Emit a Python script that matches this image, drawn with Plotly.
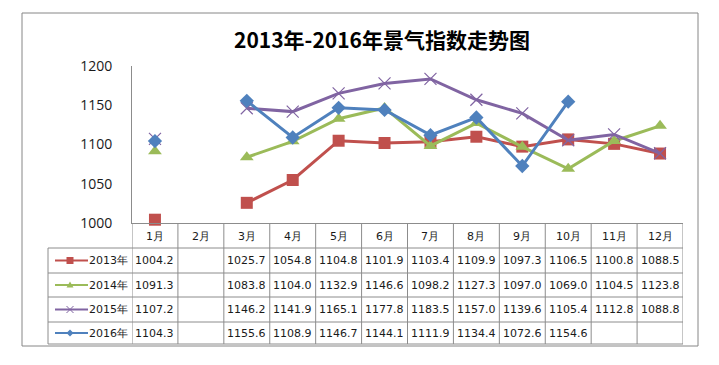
import plotly.graph_objects as go

months = ["1月", "2月", "3月", "4月", "5月", "6月", "7月", "8月", "9月", "10月", "11月", "12月"]
series_names = ["2013年", "2014年", "2015年", "2016年"]
v2013 = [1004.2, None, 1025.7, 1054.8, 1104.8, 1101.9, 1103.4, 1109.9, 1097.3, 1106.5, 1100.8, 1088.5]
v2014 = [1091.3, None, 1083.8, 1104.0, 1132.9, 1146.6, 1098.2, 1127.3, 1097.0, 1069.0, 1104.5, 1123.8]
v2015 = [1107.2, None, 1146.2, 1141.9, 1165.1, 1177.8, 1183.5, 1157.0, 1139.6, 1105.4, 1112.8, 1088.8]
v2016 = [1104.3, None, 1155.6, 1108.9, 1146.7, 1144.1, 1111.9, 1134.4, 1072.6, 1154.6, None, None]
y_ticks = [1000, 1050, 1100, 1150, 1200]
title_text = "2013年-2016年景气指数走势图"

OFF = 8  # page body margin
WIN_W, WIN_H = 719, 365
W, H = WIN_W - OFF * 2, WIN_H - OFF * 2
L, R, T, B = 132, 683, 66, 223  # plot area in screen pixels
pw, ph = R - L, B - T


def px(x):
    return (x - L) / pw


def py(y):
    return (B - y) / ph


colors = ["#C0504D", "#9BBB59", "#8064A2", "#4F81BD"]
symbols = ["square", "triangle-up", "x-thin", "diamond"]
msizes = [12, 12, 12, 11]
all_vals = [v2013, v2014, v2015, v2016]

fig = go.Figure()
for name, vals, c, s, ms in zip(series_names, all_vals, colors, symbols, msizes):
    marker = dict(symbol=s, size=ms, color=c)
    if s == "x-thin":
        marker["line"] = dict(color=c, width=1.2)
    fig.add_trace(go.Scatter(
        x=months, y=vals, name=name, mode="lines+markers",
        line=dict(color=c, width=3), marker=marker, connectgaps=False,
        showlegend=False, cliponaxis=False,
    ))

shapes = []
grid = "#8C8C8C"
txt = "#1a1a1a"
# outer border
shapes.append(dict(type="rect", xref="paper", yref="paper", x0=px(22), x1=px(698), y0=py(346), y1=py(13),
                   line=dict(color="#868686", width=1), fillcolor="rgba(0,0,0,0)", layer="below"))
row_lines = [248, 273, 297, 322, 344]
table_bottom = 344
for i in range(len(months) + 1):
    shapes.append(dict(type="line", xref="x", yref="paper", x0=i - 0.5, x1=i - 0.5, y0=0, y1=py(table_bottom),
                       line=dict(color=grid, width=1)))
for yy in row_lines:
    shapes.append(dict(type="line", xref="paper", yref="paper", x0=px(48), x1=1, y0=py(yy), y1=py(yy),
                       line=dict(color=grid, width=1)))
shapes.append(dict(type="line", xref="paper", yref="paper", x0=px(48), x1=px(48), y0=py(248), y1=py(table_bottom),
                   line=dict(color=grid, width=1)))

row_centers = [260.5, 285, 309.5, 333]
annotations = []
for m_i, m in enumerate(months):
    annotations.append(dict(xref="x", yref="paper", x=m_i, y=py(236.5), text=m, showarrow=False,
                            xanchor="center", yanchor="middle",
                            font=dict(family="DejaVu Sans", size=11, color=txt)))
for r_i, (name, vals, c) in enumerate(zip(series_names, all_vals, colors)):
    yc = row_centers[r_i]
    for m_i, v in enumerate(vals):
        if v is None:
            continue
        annotations.append(dict(xref="x", yref="paper", x=m_i, y=py(yc), text=f"{v:.1f}", showarrow=False,
                                xanchor="center", yanchor="middle",
                                font=dict(family="DejaVu Sans", size=11, color=txt)))
    annotations.append(dict(xref="paper", yref="paper", x=px(87), y=py(yc), xanchor="left", yanchor="middle",
                            text=name, showarrow=False,
                            font=dict(family="DejaVu Sans", size=11, color=txt)))
    shapes.append(dict(type="line", xref="paper", yref="paper", x0=px(55), x1=px(88), y0=py(yc), y1=py(yc),
                       line=dict(color=c, width=2)))
    cx, cy, r = 70, yc, 3.5
    sym = symbols[r_i]
    if sym == "square":
        path = f"M{px(cx-r)},{py(cy-r)} L{px(cx+r)},{py(cy-r)} L{px(cx+r)},{py(cy+r)} L{px(cx-r)},{py(cy+r)} Z"
        shapes.append(dict(type="path", xref="paper", yref="paper", path=path, fillcolor=c, line=dict(color=c, width=0)))
    elif sym == "triangle-up":
        path = f"M{px(cx)},{py(cy-r)} L{px(cx+r)},{py(cy+r-1)} L{px(cx-r)},{py(cy+r-1)} Z"
        shapes.append(dict(type="path", xref="paper", yref="paper", path=path, fillcolor=c, line=dict(color=c, width=0)))
    elif sym == "x-thin":
        path = (f"M{px(cx-r)},{py(cy-r)} L{px(cx+r)},{py(cy+r)} M{px(cx+r)},{py(cy-r)} L{px(cx-r)},{py(cy+r)}")
        shapes.append(dict(type="path", xref="paper", yref="paper", path=path, line=dict(color=c, width=1)))
    else:
        path = f"M{px(cx)},{py(cy-r)} L{px(cx+r)},{py(cy)} L{px(cx)},{py(cy+r)} L{px(cx-r)},{py(cy)} Z"
        shapes.append(dict(type="path", xref="paper", yref="paper", path=path, fillcolor=c, line=dict(color=c, width=0)))

fig.update_layout(
    width=W, height=H,
    margin=dict(l=L - OFF, r=(W + OFF) - R, t=T - OFF, b=(H + OFF) - B, pad=0),
    paper_bgcolor="white", plot_bgcolor="white",
    title=dict(text=f"<b>{title_text}</b>", x=(382 - OFF) / W, xanchor="center", xref="container",
               y=1 - (41 - OFF) / H, yanchor="middle", yref="container",
               font=dict(family="Noto Sans CJK SC", size=21, color="#000000")),
    shapes=shapes, annotations=annotations,
    xaxis=dict(type="category", categoryorder="array", categoryarray=months, range=[-0.5, 11.5],
               showticklabels=False, ticks="", showgrid=False, zeroline=False,
               showline=True, linecolor=grid, linewidth=1),
    yaxis=dict(range=[1000, 1200], tickvals=y_ticks, showgrid=False, zeroline=False,
               showline=True, linecolor=grid, linewidth=1, ticks="", ticklabelstandoff=16,
               tickfont=dict(family="Open Sans", size=14, color=txt)),
)

fig.write_html("out.html")
